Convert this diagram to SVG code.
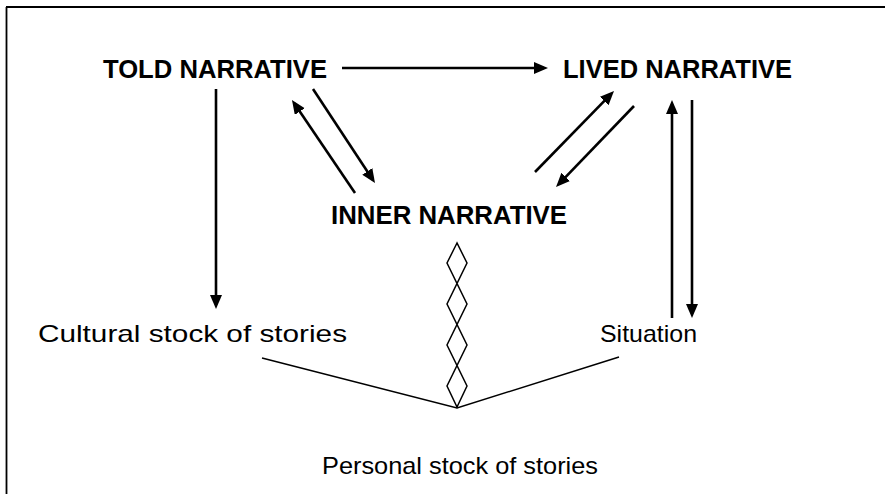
<svg xmlns="http://www.w3.org/2000/svg" width="885" height="494" viewBox="0 0 885 494">
  <style>
    .title { font-family: "Liberation Sans", Arial, sans-serif; font-weight: bold; font-size: 25px; fill: #000; }
    .label { font-family: "Liberation Sans", Arial, sans-serif; font-size: 24px; fill: #000; }
    .conn { stroke: #000; stroke-width: 2.6; fill: none; }
    .thin { stroke: #000; stroke-width: 1.5; fill: none; }
  </style>
  <defs>
    <marker id="head" markerUnits="userSpaceOnUse" markerWidth="15" markerHeight="13" refX="10" refY="6" orient="auto">
      <path d="M0,0 L14,6 L0,12 z" fill="#000"/>
    </marker>
  </defs>

  <rect width="885" height="494" fill="#fff"/>

  <!-- frame: top and left edges only -->
  <g id="frame">
    <line x1="6" y1="7" x2="885" y2="7" stroke="#000" stroke-width="1.8"/>
    <line x1="6.5" y1="7" x2="6.5" y2="494" stroke="#000" stroke-width="1.8"/>
  </g>

  <!-- arrows between the narratives -->
  <g id="connectors">
    <line class="conn" x1="342" y1="68" x2="544" y2="68" marker-end="url(#head)"/>
    <line class="conn" x1="216" y1="89" x2="216" y2="305" marker-end="url(#head)"/>
    <line class="conn" x1="355" y1="193" x2="294.2" y2="103.3" marker-end="url(#head)"/>
    <line class="conn" x1="313" y1="89" x2="372.8" y2="179.7" marker-end="url(#head)"/>
    <line class="conn" x1="535" y1="172" x2="611.2" y2="93.9" marker-end="url(#head)"/>
    <line class="conn" x1="634" y1="106" x2="558.8" y2="184.1" marker-end="url(#head)"/>
    <line class="conn" x1="672" y1="318" x2="672" y2="104" marker-end="url(#head)"/>
    <line class="conn" x1="692" y1="100" x2="692" y2="314" marker-end="url(#head)"/>
    <!-- chain of diamonds below the inner narrative -->
    <path class="thin" d="M457,243 L447,263 L467,304 L447,345 L467,386 L457,407 L447,386 L467,345 L447,304 L467,263 Z"/>
    <!-- the two stocks feeding the personal stock -->
    <polyline class="thin" points="262,358 457,408 619,357"/>
  </g>

  <g id="told">
    <text class="title" x="103" y="78" textLength="224" lengthAdjust="spacingAndGlyphs">TOLD NARRATIVE</text>
  </g>
  <g id="lived">
    <text class="title" x="563" y="78" textLength="229" lengthAdjust="spacingAndGlyphs">LIVED NARRATIVE</text>
  </g>
  <g id="inner">
    <text class="title" x="331" y="224" textLength="236" lengthAdjust="spacingAndGlyphs">INNER NARRATIVE</text>
  </g>
  <g id="cultural">
    <text class="label" x="38" y="342" textLength="309" lengthAdjust="spacingAndGlyphs">Cultural stock of stories</text>
  </g>
  <g id="situation">
    <text class="label" x="600" y="342" textLength="97" lengthAdjust="spacingAndGlyphs">Situation</text>
  </g>
  <g id="personal">
    <text class="label" x="322" y="474" textLength="276" lengthAdjust="spacingAndGlyphs">Personal stock of stories</text>
  </g>
</svg>
